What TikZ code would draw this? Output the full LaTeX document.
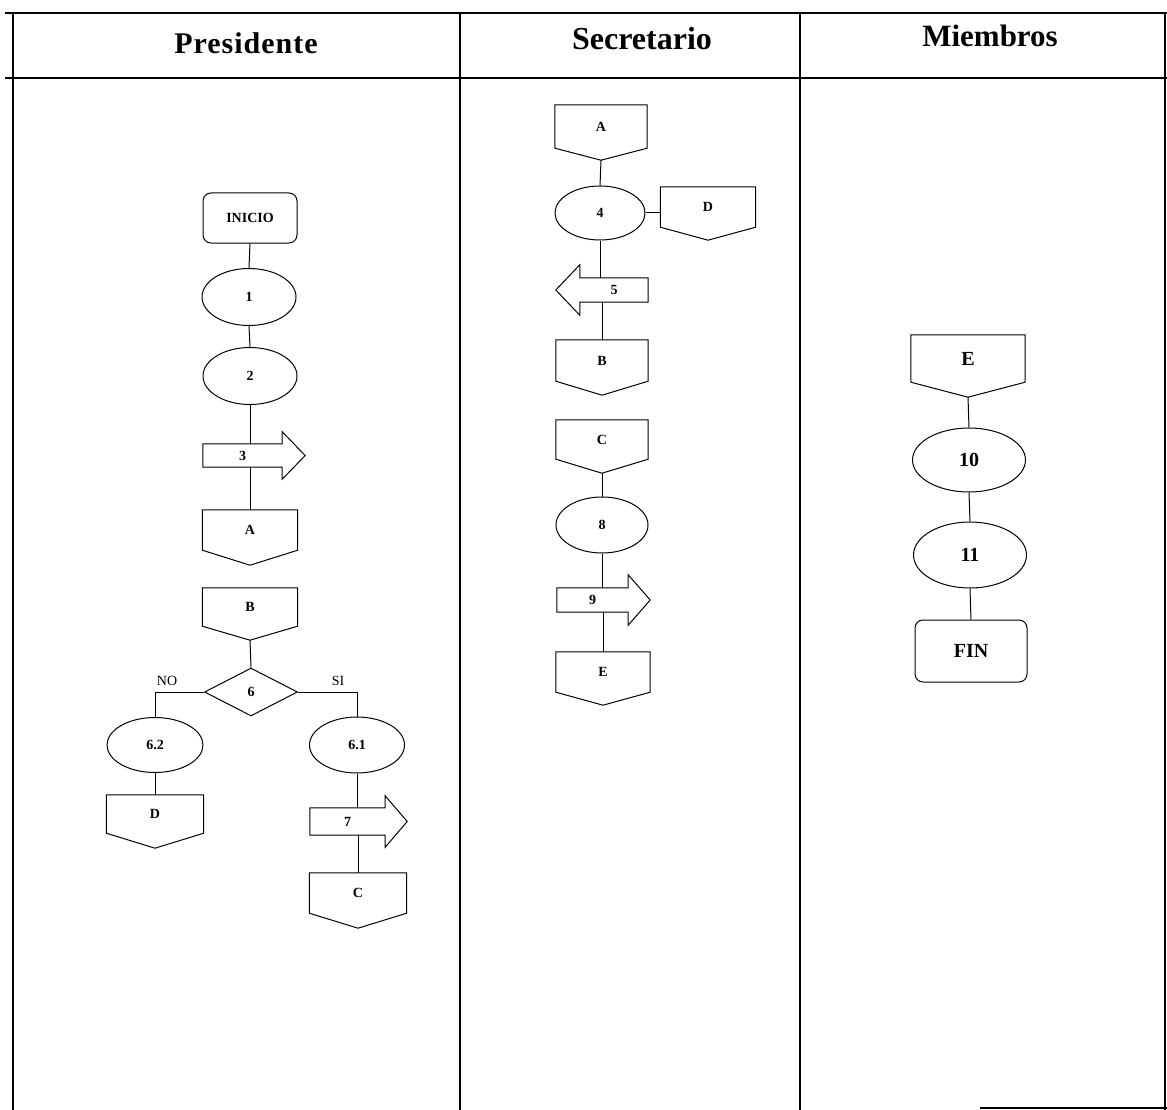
\documentclass[tikz,border=0pt]{standalone}
\usepackage{fontspec}
\setmainfont{Liberation Serif}
\usetikzlibrary{shapes.geometric,calc}
\tikzset{
  shp/.style={draw, line width=1pt, line join=miter},
  lbl/.style={inner sep=0pt, font=\bfseries\fontsize{14}{16}\selectfont},
  biglbl/.style={inner sep=0pt, font=\bfseries\fontsize{20}{22}\selectfont},
  ell/.style={ellipse, shp, inner sep=0pt},
  rbox/.style={rectangle, shp, rounded corners=8pt, inner sep=0pt},
  dia/.style={diamond, shp, inner sep=0pt},
  conn/.style={draw, line width=1pt},
  grid/.style={draw, line width=1.6pt},
  head/.style={inner sep=0pt, anchor=base, font=\bfseries\fontsize{32}{36}\selectfont},
  brl/.style={inner sep=0pt, font=\fontsize{14}{16}\selectfont}
}
% off-page connector: name, cx, top, width, rect height, point depth, text, style
\newcommand{\OffPage}[8]{%
  \node[#8, minimum width=#4pt, minimum height=#5pt] (#1) at (#2,{#3+#5/2}) {#7};
  \coordinate (#1-tip) at ([yshift=-#6pt]#1.south);
  \draw[shp] (#1.south west) -- (#1.north west) -- (#1.north east) -- (#1.south east) -- (#1-tip) -- cycle;}
% right block arrow: name, cx, cy, body w, body h, head extend, head length, text
\newcommand{\RArr}[8]{%
  \node[lbl, minimum width=#4pt, minimum height=#5pt] (#1) at (#2,#3) {#8};
  \draw[shp] (#1.north west) -- (#1.north east) -- ([yshift=#6pt]#1.north east) -- ([xshift=#7pt]#1.east)
    -- ([yshift=-#6pt]#1.south east) -- (#1.south east) -- (#1.south west) -- cycle;}
% left block arrow
\newcommand{\LArr}[8]{%
  \node[lbl, minimum width=#4pt, minimum height=#5pt] (#1) at (#2,#3) {#8};
  \draw[shp] (#1.north east) -- (#1.north west) -- ([yshift=#6pt]#1.north west) -- ([xshift=-#7pt]#1.west)
    -- ([yshift=-#6pt]#1.south west) -- (#1.south west) -- (#1.south east) -- cycle;}
\begin{document}
\begin{tikzpicture}[x=1pt,y=-1pt]
\useasboundingbox[fill=white] (0,0) rectangle (1167,1110);

% ---- table grid ----
\draw[grid] (5,13) -- (1167,13);
\draw[grid] (5,78) -- (1167,78);
\draw[grid] (13,13) -- (13,1110);
\draw[grid] (460,13) -- (460,1110);
\draw[grid] (800,13) -- (800,1110);
\draw[grid] (1165,13) -- (1165,1110);
\draw[grid] (980,1108) -- (1167,1108);

\node[head, font=\bfseries\fontsize{30}{36}\selectfont\addfontfeatures{LetterSpace=3.3}] (hP) at (246,54) {Presidente};
\node[head] (hS) at (642,50) {Secretario};
\node[head, font=\bfseries\fontsize{31}{36}\selectfont] (hM) at (990,47) {Miembros};

% ---- Presidente ----
\node[rbox, lbl, minimum width=94pt, minimum height=50pt] (ini) at (250,218) {INICIO};
\node[ell, lbl, minimum width=94pt, minimum height=57pt] (e1) at (249,297) {1};
\node[ell, lbl, minimum width=94pt, minimum height=57pt] (e2) at (250,376) {2};
\RArr{a3}{242.5}{455.5}{79}{23}{12}{23}{3}
\OffPage{pA}{250}{510}{95}{40}{15}{A}{lbl}
\OffPage{pB}{250}{588}{95}{38}{14}{B}{lbl}
\node[dia, lbl, minimum width=93pt, minimum height=48pt] (d6) at (251,692) {6};
\node[ell, lbl, minimum width=96pt, minimum height=55pt] (e62) at (155,745) {6.2};
\OffPage{pD}{155}{795}{97}{38}{15}{D}{lbl}
\node[ell, lbl, minimum width=95pt, minimum height=56pt] (e61) at (357,745) {6.1};
\RArr{a7}{347.5}{821.5}{75}{27}{12}{22}{7}
\OffPage{pC}{358}{873}{97}{40}{15}{C}{lbl}
\node[brl] (no) at (167,681) {NO};
\node[brl] (si) at (338,681) {SI};

\draw[conn] (ini.south) -- (e1.north);
\draw[conn] (e1.south) -- (e2.north);
\draw[conn] (e2.south) -- (e2.south |- a3.north);
\draw[conn] (pA.north |- a3.south) -- (pA.north);
\draw[conn] (pB-tip) -- (d6.north);
\draw[conn] (d6.west) -| (e62.north);
\draw[conn] (d6.east) -| (e61.north);
\draw[conn] (e62.south) -- (pD.north);
\draw[conn] (e61.south) -- (e61.south |- a7.north);
\draw[conn] (pC.north |- a7.south) -- (pC.north);

% ---- Secretario ----
\OffPage{sA}{601}{105}{92}{43}{12}{A}{lbl}
\node[ell, lbl, minimum width=90pt, minimum height=54pt] (e4) at (600,213) {4};
\OffPage{sD}{708}{187}{95}{40}{13}{D}{lbl}
\LArr{a5}{614}{290}{68}{24}{13}{24}{5}
\OffPage{sB}{602}{340}{92}{41}{14}{B}{lbl}
\OffPage{sC}{602}{420}{92}{39}{14}{C}{lbl}
\node[ell, lbl, minimum width=92pt, minimum height=56pt] (e8) at (602,525) {8};
\RArr{a9}{592.5}{600}{71}{24}{13}{22}{9}
\OffPage{sE}{603}{652}{94}{40}{13}{E}{lbl}

\draw[conn] (sA-tip) -- (e4.north);
\draw[conn] (e4.east) -- (e4.east -| sD.west);
\draw[conn] (e4.south) -- (e4.south |- a5.north);
\draw[conn] (sB.north |- a5.south) -- (sB.north);
\draw[conn] (sC-tip) -- (e8.north);
\draw[conn] (e8.south) -- (e8.south |- a9.north);
\draw[conn] (sE.north |- a9.south) -- (sE.north);

% ---- Miembros ----
\OffPage{mE}{968}{335}{114}{47}{15}{E}{biglbl}
\node[ell, biglbl, minimum width=113pt, minimum height=64pt] (e10) at (969,460) {10};
\node[ell, biglbl, minimum width=113pt, minimum height=66pt] (e11) at (970,555) {11};
\node[rbox, biglbl, minimum width=112pt, minimum height=62pt] (fin) at (971,651) {FIN};

\draw[conn] (mE-tip) -- (e10.north);
\draw[conn] (e10.south) -- (e11.north);
\draw[conn] (e11.south) -- (fin.north);
\end{tikzpicture}
\end{document}
